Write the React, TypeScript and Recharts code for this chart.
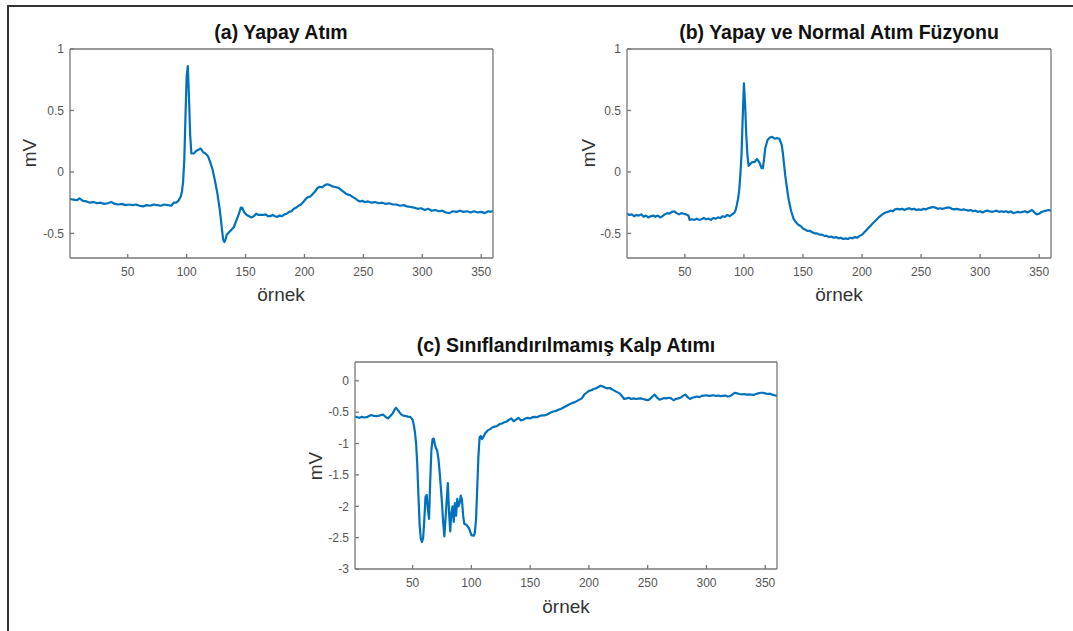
import React from 'react';
import { LineChart, Line, XAxis, YAxis } from 'recharts';

// (a) Yapay Atım
const aSamples = [
  1, 4, 7, 9, 12, 15, 18, 21, 24, 27, 30, 33, 36, 39, 42, 45, 48, 51, 54, 57, 60, 63, 66, 69, 72, 75, 78, 81, 84, 87,
  89, 91, 93, 95, 96, 97, 98, 99, 100, 101, 102, 103, 104, 106, 108, 110, 112, 114, 116, 118, 120, 122, 124, 126, 128,
  129, 130, 131, 132, 133, 134, 136, 138, 140, 142, 144, 146, 147, 149, 151, 153, 155, 157, 159, 161, 163, 165, 167,
  169, 171, 173, 175, 177, 179, 181, 183, 185, 187, 189, 191, 193, 195, 197, 199, 201, 203, 205, 207, 209, 211, 213,
  215, 217, 219, 221, 223, 225, 227, 229, 231, 233, 235, 237, 239, 241, 243, 245, 247, 249, 251, 254, 257, 260, 263,
  266, 269, 272, 275, 278, 281, 284, 287, 290, 293, 296, 299, 302, 305, 308, 311, 314, 317, 320, 323, 326, 329, 332,
  335, 338, 341, 344, 347, 350, 353, 356, 358, 360,
];
const aValues = [
  -0.22, -0.225, -0.23, -0.215, -0.235, -0.24, -0.25, -0.245, -0.255, -0.25, -0.26, -0.255, -0.245, -0.26, -0.265,
  -0.26, -0.27, -0.265, -0.27, -0.265, -0.275, -0.28, -0.27, -0.275, -0.265, -0.27, -0.275, -0.265, -0.27, -0.275,
  -0.25, -0.25, -0.235, -0.2, -0.16, -0.08, 0.1, 0.45, 0.78, 0.86, 0.6, 0.3, 0.15, 0.15, 0.17, 0.18, 0.19, 0.16, 0.15,
  0.13, 0.08, 0.02, -0.07, -0.17, -0.3, -0.38, -0.47, -0.55, -0.57, -0.55, -0.51, -0.49, -0.47, -0.45, -0.4, -0.35,
  -0.29, -0.29, -0.33, -0.35, -0.36, -0.37, -0.36, -0.34, -0.35, -0.35, -0.35, -0.345, -0.36, -0.36, -0.35, -0.36,
  -0.365, -0.355, -0.36, -0.345, -0.34, -0.325, -0.32, -0.3, -0.29, -0.275, -0.265, -0.245, -0.22, -0.205, -0.2,
  -0.18, -0.16, -0.13, -0.12, -0.125, -0.11, -0.1, -0.105, -0.115, -0.12, -0.125, -0.13, -0.145, -0.16, -0.175,
  -0.185, -0.19, -0.205, -0.215, -0.23, -0.24, -0.235, -0.245, -0.24, -0.25, -0.245, -0.255, -0.25, -0.26, -0.255,
  -0.265, -0.265, -0.275, -0.27, -0.28, -0.285, -0.29, -0.3, -0.295, -0.31, -0.3, -0.315, -0.31, -0.32, -0.315,
  -0.33, -0.335, -0.32, -0.325, -0.315, -0.325, -0.32, -0.33, -0.32, -0.33, -0.325, -0.335, -0.32, -0.325, -0.315,
];

// (b) Yapay ve Normal Atım Füzyonu
const bSamples = [
  1, 3, 5, 7, 9, 11, 13, 15, 17, 19, 21, 23, 25, 27, 29, 31, 33, 35, 37, 39, 41, 43, 45, 47, 49, 51, 53, 54, 56, 58,
  60, 62, 64, 66, 68, 70, 72, 74, 76, 78, 80, 82, 84, 86, 88, 90, 92, 93, 94, 95, 96, 97, 98, 99, 100, 101, 102, 103,
  104, 105, 107, 109, 111, 113, 115, 116, 117, 118, 120, 122, 124, 126, 128, 130, 132, 133, 134, 135, 136, 137, 138,
  140, 142, 144, 146, 148, 150, 152, 154, 156, 158, 160, 162, 164, 166, 168, 170, 172, 174, 176, 178, 180, 182, 184,
  186, 188, 190, 192, 194, 196, 198, 200, 202, 204, 206, 208, 210, 212, 214, 216, 218, 220, 222, 224, 226, 228, 230,
  232, 234, 236, 238, 240, 242, 244, 246, 248, 250, 252, 254, 256, 258, 260, 262, 264, 266, 268, 270, 272, 274, 276,
  278, 280, 282, 284, 286, 288, 290, 292, 294, 296, 298, 300, 302, 304, 306, 308, 310, 312, 314, 316, 318, 320, 322,
  324, 326, 328, 330, 332, 334, 336, 338, 340, 342, 344, 346, 348, 350, 352, 354, 356, 358, 360,
];
const bValues = [
  -0.34, -0.35, -0.345, -0.36, -0.35, -0.355, -0.345, -0.365, -0.355, -0.37, -0.36, -0.355, -0.365, -0.355, -0.37,
  -0.36, -0.345, -0.335, -0.34, -0.325, -0.32, -0.335, -0.345, -0.335, -0.34, -0.345, -0.355, -0.39, -0.385, -0.39,
  -0.38, -0.39, -0.385, -0.375, -0.385, -0.38, -0.39, -0.375, -0.38, -0.37, -0.375, -0.36, -0.365, -0.35, -0.36,
  -0.345, -0.33, -0.31, -0.27, -0.22, -0.15, -0.02, 0.15, 0.45, 0.72, 0.55, 0.3, 0.13, 0.05, 0.06, 0.08, 0.08, 0.105,
  0.08, 0.03, 0.03, 0.1, 0.19, 0.26, 0.28, 0.285, 0.27, 0.275, 0.27, 0.22, 0.15, 0.06, -0.03, -0.1, -0.17, -0.23,
  -0.32, -0.38, -0.41, -0.43, -0.44, -0.46, -0.47, -0.48, -0.48, -0.49, -0.5, -0.5, -0.51, -0.51, -0.52, -0.52,
  -0.53, -0.525, -0.535, -0.53, -0.54, -0.535, -0.545, -0.54, -0.545, -0.535, -0.54, -0.53, -0.535, -0.52, -0.51,
  -0.49, -0.47, -0.45, -0.43, -0.41, -0.39, -0.37, -0.355, -0.34, -0.33, -0.325, -0.315, -0.32, -0.305, -0.3,
  -0.305, -0.3, -0.31, -0.3, -0.295, -0.305, -0.3, -0.31, -0.305, -0.31, -0.3, -0.305, -0.295, -0.29, -0.285, -0.29,
  -0.3, -0.295, -0.3, -0.295, -0.29, -0.29, -0.3, -0.305, -0.3, -0.305, -0.31, -0.305, -0.31, -0.315, -0.31, -0.32,
  -0.315, -0.325, -0.32, -0.33, -0.32, -0.315, -0.32, -0.325, -0.32, -0.315, -0.325, -0.32, -0.325, -0.32, -0.33,
  -0.32, -0.335, -0.33, -0.325, -0.33, -0.325, -0.32, -0.33, -0.32, -0.31, -0.33, -0.345, -0.34, -0.325, -0.32,
  -0.315, -0.31, -0.315,
];

// (c) Sınıflandırılmamış Kalp Atımı
const cSamples = [
  1, 3, 5, 7, 9, 11, 13, 15, 17, 19, 21, 23, 25, 27, 29, 31, 33, 35, 36, 38, 40, 42, 44, 46, 48, 50, 51, 52, 53, 54,
  55, 56, 57, 58, 59, 60, 61, 62, 63, 64, 65, 66, 67, 68, 69, 70, 71, 72, 73, 74, 75, 76, 77, 78, 79, 80, 81, 82, 83,
  84, 85, 86, 87, 88, 89, 90, 91, 92, 93, 94, 96, 98, 100, 102, 103, 104, 105, 106, 107, 108, 109, 110, 112, 114, 116,
  118, 120, 122, 124, 126, 128, 130, 132, 134, 136, 138, 140, 142, 144, 146, 148, 150, 152, 154, 156, 158, 160, 162,
  164, 166, 168, 170, 172, 174, 176, 178, 180, 182, 184, 186, 188, 190, 192, 194, 196, 198, 200, 202, 204, 206, 208,
  210, 212, 214, 216, 218, 220, 222, 224, 226, 228, 230, 232, 234, 236, 238, 240, 242, 244, 246, 248, 250, 252, 254,
  256, 258, 260, 262, 264, 266, 268, 270, 272, 274, 276, 278, 280, 282, 284, 286, 288, 290, 292, 294, 296, 298, 300,
  302, 304, 306, 308, 310, 312, 314, 316, 318, 320, 322, 324, 326, 328, 330, 332, 334, 336, 338, 340, 342, 344, 346,
  348, 350, 352, 354, 356, 358, 360,
];
const cValues = [
  -0.57, -0.58, -0.59, -0.575, -0.585, -0.58, -0.56, -0.545, -0.56, -0.565, -0.56, -0.545, -0.54, -0.575, -0.6,
  -0.56, -0.52, -0.45, -0.43, -0.48, -0.53, -0.555, -0.56, -0.57, -0.575, -0.62, -0.7, -0.82, -1.0, -1.35, -1.85,
  -2.3, -2.52, -2.57, -2.5, -2.2, -1.85, -1.82, -2.05, -2.2, -1.6, -1.1, -0.93, -0.92, -1.02, -1.08, -1.12, -1.25,
  -1.45, -1.7, -1.95, -2.25, -2.48, -2.2, -1.9, -1.63, -2.1, -2.4, -2.1, -2.0, -2.25, -1.95, -2.15, -1.88, -2.0,
  -1.95, -1.83, -1.9, -2.15, -2.28, -2.3, -2.35, -2.46, -2.47, -2.42, -2.2, -1.7, -1.2, -0.9, -0.88, -0.93, -0.9,
  -0.83, -0.79, -0.77, -0.74, -0.73, -0.72, -0.69, -0.68, -0.66, -0.65, -0.62, -0.6, -0.645, -0.62, -0.59, -0.63,
  -0.62, -0.6, -0.59, -0.6, -0.58, -0.575, -0.58, -0.56, -0.55, -0.55, -0.54, -0.52, -0.5, -0.49, -0.48, -0.46,
  -0.45, -0.43, -0.41, -0.39, -0.37, -0.355, -0.34, -0.32, -0.3, -0.28, -0.22, -0.19, -0.16, -0.15, -0.13, -0.12,
  -0.1, -0.08, -0.09, -0.11, -0.12, -0.115, -0.14, -0.16, -0.18, -0.2, -0.24, -0.29, -0.28, -0.27, -0.29, -0.28,
  -0.29, -0.285, -0.28, -0.29, -0.3, -0.31, -0.29, -0.25, -0.22, -0.27, -0.3, -0.29, -0.275, -0.28, -0.27, -0.28,
  -0.31, -0.29, -0.28, -0.27, -0.24, -0.22, -0.26, -0.29, -0.27, -0.26, -0.25, -0.26, -0.24, -0.235, -0.23, -0.24,
  -0.235, -0.23, -0.24, -0.235, -0.245, -0.24, -0.235, -0.25, -0.245, -0.22, -0.19, -0.2, -0.21, -0.215, -0.21,
  -0.22, -0.215, -0.22, -0.225, -0.21, -0.2, -0.19, -0.19, -0.2, -0.21, -0.205, -0.22, -0.23, -0.24,
];

const sampleTicks = [50, 100, 150, 200, 250, 300, 350];
const smallTicks = [-0.5, 0, 0.5, 1];
const bigTicks = [-3, -2.5, -2, -1.5, -1, -0.5, 0];

const BLUE = '#0072BD';
const AXIS = '#777';
const TICK_TEXT = '#555';
const FONT = '"Liberation Sans", Arial, sans-serif';

const toRows = (xs: number[], ys: number[]) => xs.map((n, i) => ({ n, v: ys[i] }));

type PanelProps = {
  left: number;
  top: number;
  width: number;
  height: number;
  margin: { top: number; right: number; bottom: number; left: number };
  rows: { n: number; v: number }[];
  yDomain: [number, number];
  yTicks: number[];
};

function Panel({ left, top, width, height, margin, rows, yDomain, yTicks }: PanelProps) {
  return (
    <div style={{ position: 'absolute', left, top, width, height }}>
      <LineChart width={width} height={height} data={rows} margin={margin}>
        <XAxis
          xAxisId="bottom"
          dataKey="n"
          type="number"
          domain={[1, 360]}
          ticks={sampleTicks}
          allowDataOverflow
          interval={0}
          height={30}
          tickSize={-4}
          tickMargin={13}
          stroke={AXIS}
          strokeWidth={1.3}
          tick={{ fill: TICK_TEXT, fontSize: 12 }}
        />
        <XAxis
          xAxisId="top"
          orientation="top"
          dataKey="n"
          type="number"
          domain={[1, 360]}
          ticks={sampleTicks}
          allowDataOverflow
          interval={0}
          height={1}
          tickSize={-4}
          stroke={AXIS}
          strokeWidth={1.3}
          tick={false}
        />
        <YAxis
          yAxisId="left"
          type="number"
          domain={yDomain}
          ticks={yTicks}
          allowDataOverflow
          interval={0}
          width={40}
          tickSize={-4}
          tickMargin={10}
          stroke={AXIS}
          strokeWidth={1.3}
          tick={{ fill: TICK_TEXT, fontSize: 12 }}
        />
        <YAxis
          yAxisId="right"
          orientation="right"
          type="number"
          domain={yDomain}
          ticks={yTicks}
          allowDataOverflow
          interval={0}
          width={1}
          tickSize={-4}
          stroke={AXIS}
          strokeWidth={1.3}
          tick={false}
        />
        <Line
          xAxisId="bottom"
          yAxisId="left"
          type="linear"
          dataKey="v"
          stroke={BLUE}
          strokeWidth={2.2}
          strokeLinejoin="round"
          dot={false}
          isAnimationActive={false}
        />
      </LineChart>
    </div>
  );
}

function Caption({ x, y, text, size, bold, rotate, color }: { x: number; y: number; text: string; size: number; bold?: boolean; rotate?: boolean; color: string }) {
  return (
    <div
      style={{
        position: 'absolute',
        left: x,
        top: y,
        transform: `translate(-50%, -50%)${rotate ? ' rotate(-90deg)' : ''}`,
        whiteSpace: 'nowrap',
        fontSize: size,
        fontWeight: bold ? 'bold' : 'normal',
        color,
        lineHeight: 1,
      }}
    >
      {text}
    </div>
  );
}

export default function App() {
  return (
    <div style={{ position: 'absolute', left: 0, top: 0, width: 1073, height: 631, background: '#fff', overflow: 'hidden', fontFamily: FONT }}>
      <div style={{ position: 'absolute', left: 7, top: 5, width: 1066, height: 2, background: '#333' }} />
      <div style={{ position: 'absolute', left: 7, top: 5, width: 2, height: 626, background: '#333' }} />

      <Panel left={0} top={0} width={540} height={320} margin={{ top: 48, right: 46, bottom: 32, left: 30 }} rows={toRows(aSamples, aValues)} yDomain={[-0.7, 1]} yTicks={smallTicks} />
      <Panel left={540} top={0} width={533} height={320} margin={{ top: 48, right: 21, bottom: 32, left: 47 }} rows={toRows(bSamples, bValues)} yDomain={[-0.7, 1]} yTicks={smallTicks} />
      <Panel left={290} top={320} width={500} height={311} margin={{ top: 41, right: 12, bottom: 32, left: 25 }} rows={toRows(cSamples, cValues)} yDomain={[-3, 0.3]} yTicks={bigTicks} />

      <Caption x={281} y={33} text="(a) Yapay Atım" size={19.5} bold color="#111" />
      <Caption x={839} y={33} text="(b) Yapay ve Normal Atım Füzyonu" size={19.5} bold color="#111" />
      <Caption x={566} y={346} text="(c) Sınıflandırılmamış Kalp Atımı" size={19.5} bold color="#111" />

      <Caption x={29} y={153} text="mV" size={19} rotate color="#333" />
      <Caption x={588} y={153} text="mV" size={19} rotate color="#333" />
      <Caption x={315} y={466} text="mV" size={19} rotate color="#333" />

      <Caption x={281} y={294} text="örnek" size={19} color="#333" />
      <Caption x={839} y={294} text="örnek" size={19} color="#333" />
      <Caption x={566} y={606} text="örnek" size={19} color="#333" />
    </div>
  );
}
